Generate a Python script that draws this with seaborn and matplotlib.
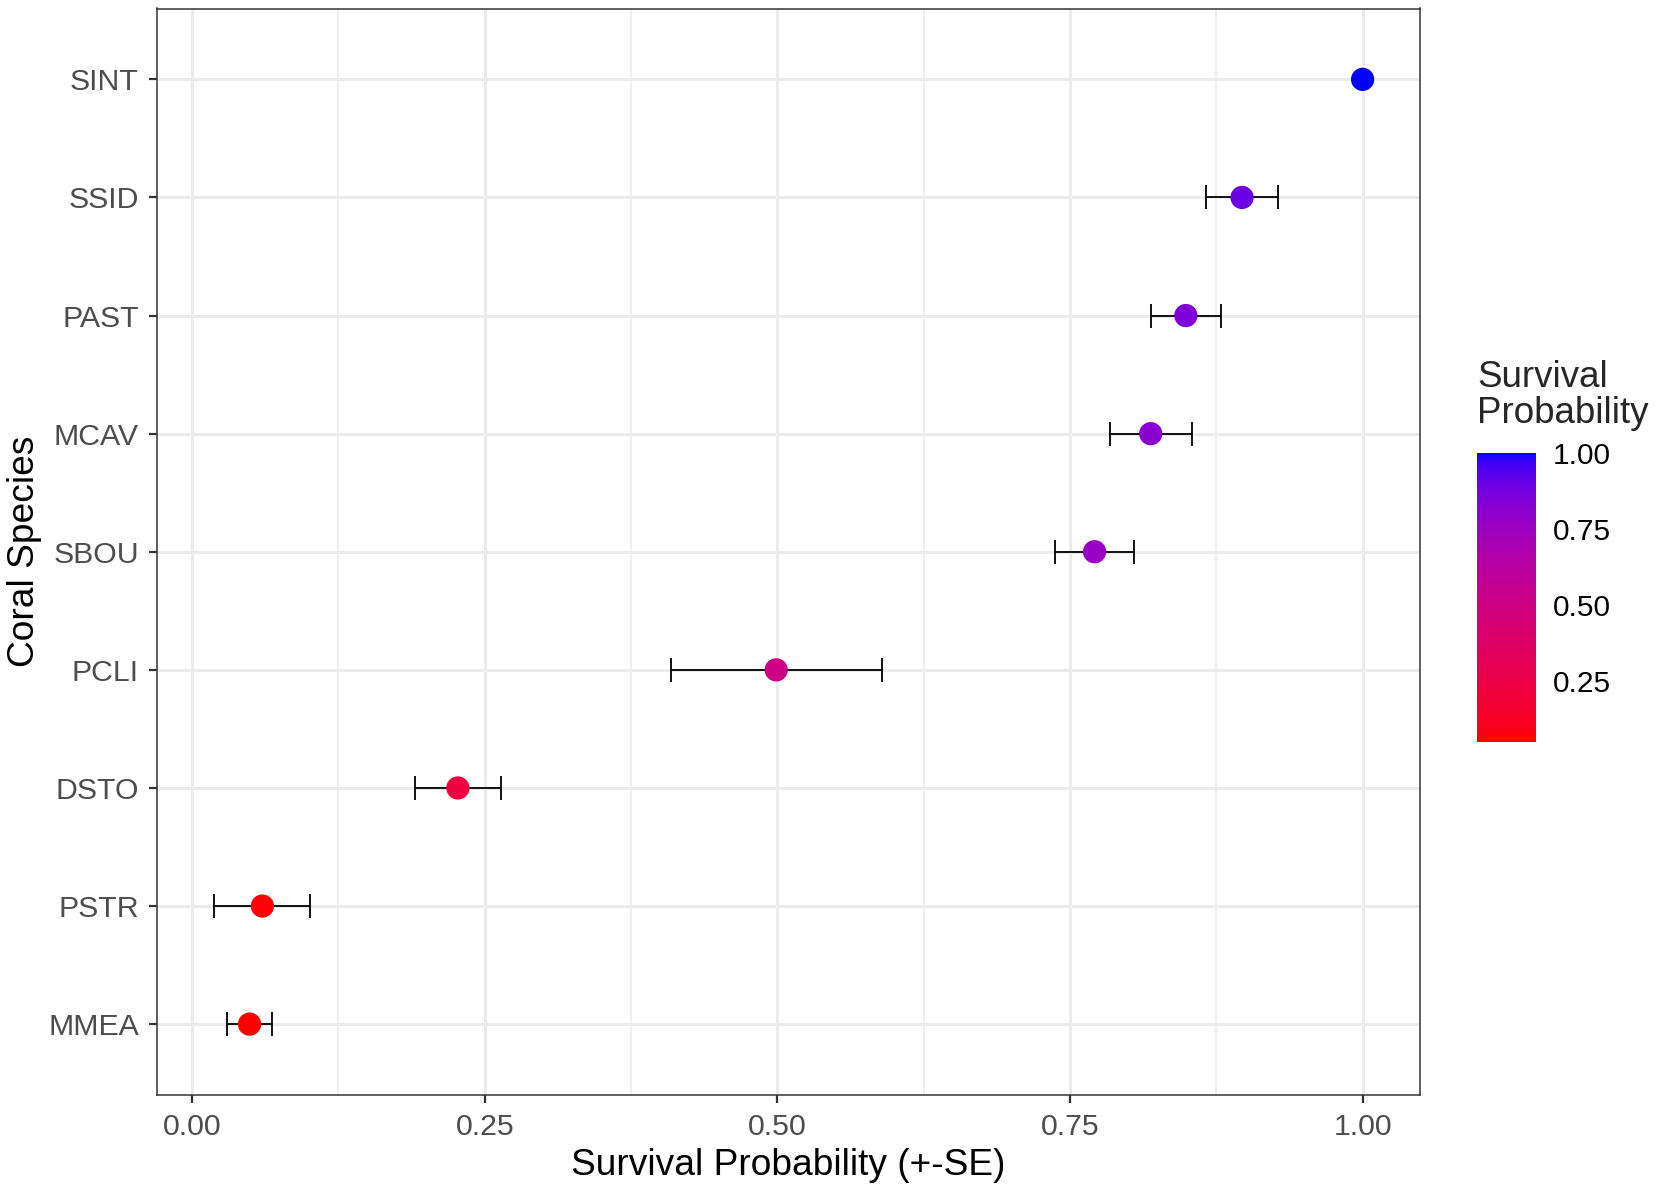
import numpy as np
import pandas as pd
import seaborn as sns
import matplotlib
matplotlib.use("Agg")
import matplotlib.pyplot as plt
from matplotlib.colors import ListedColormap, Normalize
from matplotlib.cm import ScalarMappable

# data, bottom to top
species = ["MMEA", "PSTR", "DSTO", "PCLI", "SBOU", "MCAV", "PAST", "SSID", "SINT"]
survival = [0.049, 0.060, 0.227, 0.499, 0.771, 0.819, 0.849, 0.897, 1.000]
se = [0.019, 0.041, 0.037, 0.090, 0.034, 0.035, 0.030, 0.031, 0.0]

OUT = "out.png"


def srgb_to_lab(rgb):
    rgb = np.asarray(rgb, dtype=float)
    lin = np.where(rgb <= 0.04045, rgb / 12.92, ((rgb + 0.055) / 1.055) ** 2.4)
    m = np.array([[0.4124564, 0.3575761, 0.1804375],
                  [0.2126729, 0.7151522, 0.0721750],
                  [0.0193339, 0.1191920, 0.9503041]])
    xyz = m @ lin / np.array([0.95047, 1.0, 1.08883])
    d = 6 / 29
    f = np.where(xyz > d ** 3, np.cbrt(xyz), xyz / (3 * d ** 2) + 4 / 29)
    return np.array([116 * f[1] - 16, 500 * (f[0] - f[1]), 200 * (f[1] - f[2])])


def lab_to_srgb(lab):
    L, a, b = lab
    fy = (L + 16) / 116
    fx = fy + a / 500
    fz = fy - b / 200
    d = 6 / 29
    f = np.array([fx, fy, fz])
    xyz = np.where(f > d, f ** 3, 3 * d ** 2 * (f - 4 / 29)) * np.array([0.95047, 1.0, 1.08883])
    minv = np.array([[3.2404542, -1.5371385, -0.4985314],
                     [-0.9692660, 1.8760108, 0.0415560],
                     [0.0556434, -0.2040259, 1.0572252]])
    lin = np.clip(minv @ xyz, 0, 1)
    rgb = np.where(lin <= 0.0031308, 12.92 * lin, 1.055 * lin ** (1 / 2.4) - 0.055)
    return np.clip(rgb, 0, 1)


def red_blue_cmap(n=256):
    lo = srgb_to_lab([1, 0, 0])
    hi = srgb_to_lab([0, 0, 1])
    cols = [lab_to_srgb(lo + (hi - lo) * t) for t in np.linspace(0, 1, n)]
    return ListedColormap(cols)


def main():
    df = pd.DataFrame({"species": species, "survival": survival, "se": se})
    df["pos"] = np.arange(len(df))

    cmap = red_blue_cmap()
    norm = Normalize(vmin=df["survival"].min(), vmax=df["survival"].max())

    sns.set_theme(style="white")
    plt.rcParams["font.family"] = ["Liberation Sans", "DejaVu Sans"]

    fig = plt.figure(figsize=(16.55, 11.89), dpi=100)
    ax = fig.add_axes([157 / 1655, 1 - 1095 / 1189, (1420 - 157) / 1655, (1095 - 8.5) / 1189])

    grid = "#EBEBEB"
    for v in [0.125, 0.375, 0.625, 0.875]:
        ax.axvline(v, color=grid, lw=1.1, zorder=0)
    for v in [0, 0.25, 0.5, 0.75, 1.0]:
        ax.axvline(v, color=grid, lw=2.1, zorder=0)
    for p in df["pos"]:
        ax.axhline(p, color=grid, lw=2.1, zorder=0)

    err = df[df["se"] > 0]
    ax.errorbar(err["survival"], err["pos"], xerr=err["se"], fmt="none",
                ecolor="black", elinewidth=1.3, capsize=8.4, capthick=1.3, zorder=2)

    sns.scatterplot(data=df, x="survival", y="pos", hue="survival", palette=cmap,
                    hue_norm=norm, s=280, linewidth=0, legend=False, ax=ax, zorder=3)

    lo = (df["survival"] - df["se"]).min()
    hi = (df["survival"] + df["se"]).max()
    pad = (hi - lo) * 0.05
    ax.set_xlim(lo - pad, hi + pad)
    ax.set_ylim(-0.6, len(df) - 0.4)

    ax.set_xticks([0, 0.25, 0.5, 0.75, 1.0])
    ax.set_xticklabels(["0.00", "0.25", "0.50", "0.75", "1.00"])
    ax.set_yticks(df["pos"])
    ax.set_yticklabels(df["species"])
    ax.tick_params(axis="both", length=6, width=1.6, color="#333333",
                   labelsize=21.8, labelcolor="#4D4D4D", bottom=True, left=True)
    ax.tick_params(axis="y", pad=7)
    ax.tick_params(axis="x", pad=7)

    for s in ax.spines.values():
        s.set_color("#333333")
        s.set_linewidth(1.1)

    ax.set_xlabel("Survival Probability (+-SE)", fontsize=26.7, color="black", labelpad=5)
    ax.set_ylabel("Coral Species", fontsize=26.7, color="black")
    ax.yaxis.set_label_coords((42 - 157) / 1263, 0.5)

    # colour bar legend
    cax = fig.add_axes([1477 / 1655, 1 - 742 / 1189, 59 / 1655, (742 - 453) / 1189])
    sm = ScalarMappable(norm=norm, cmap=cmap)
    cb = fig.colorbar(sm, cax=cax, ticks=[0.25, 0.5, 0.75, 1.0])
    cb.ax.set_yticklabels(["0.25", "0.50", "0.75", "1.00"])
    cb.outline.set_visible(False)
    cb.ax.tick_params(direction="in", length=11, width=1.2, color="white", left=True, right=True,
                      labelsize=21.5, labelcolor="black", pad=12)
    fig.text(1477 / 1655, 1 - 360 / 1189, "Survival\nProbability", fontsize=26.5,
             ha="left", va="top", linespacing=1.05)

    fig.savefig(OUT, dpi=100)
    plt.close(fig)


if __name__ == "__main__":
    main()
